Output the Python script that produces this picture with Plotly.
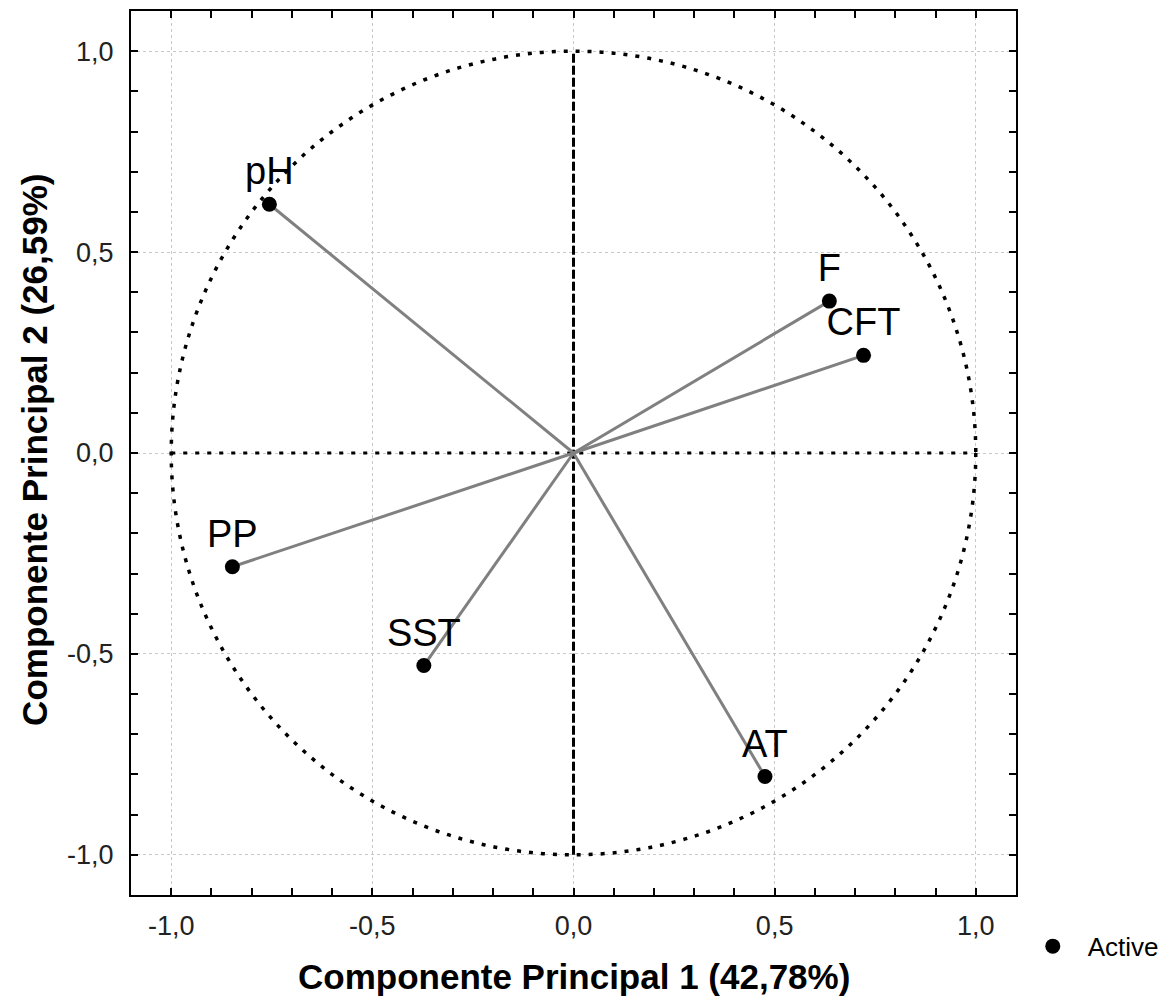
import plotly.graph_objects as go

# Data
variables = ["pH", "F", "CFT", "PP", "SST", "AT"]
pc1 = [-0.756, 0.636, 0.721, -0.848, -0.372, 0.476]
pc2 = [0.619, 0.378, 0.243, -0.283, -0.529, -0.805]

tick_vals = [-1.0, -0.5, 0.0, 0.5, 1.0]
tick_text = ["-1,0", "-0,5", "0,0", "0,5", "1,0"]

x_title = "Componente Principal 1 (42,78%)"
y_title = "Componente Principal 2 (26,59%)"
legend_name = "Active"

fig = go.Figure()

# vectors from origin
for v, x, y in zip(variables, pc1, pc2):
    fig.add_trace(go.Scatter(
        x=[0, x], y=[0, y], mode="lines",
        line=dict(color="#808080", width=3),
        showlegend=False, hoverinfo="skip"))

fig.add_trace(go.Scatter(
    x=pc1, y=pc2, mode="markers+text", name=legend_name,
    text=variables, textposition="top center",
    textfont=dict(family="Liberation Sans, Arial, sans-serif", size=38, color="black"),
    marker=dict(color="black", size=15, symbol="circle"),
    showlegend=True))

# unit circle and center lines
fig.add_shape(type="circle", xref="x", yref="y", x0=-1, y0=-1, x1=1, y1=1,
              line=dict(color="black", width=3.5, dash="4px,8px"), layer="between")
fig.add_shape(type="line", xref="x", yref="y", x0=0, y0=-1, x1=0, y1=1,
              line=dict(color="black", width=3, dash="9px,3px"), layer="between")
fig.add_shape(type="line", xref="x", yref="y", x0=-1, y0=0, x1=1, y1=0,
              line=dict(color="black", width=3, dash="4px,8px"), layer="between")

axis_common = dict(
    range=[-1.1, 1.1],
    tickmode="array", tickvals=tick_vals, ticktext=tick_text,
    ticks="inside", ticklen=7, tickwidth=2, tickcolor="black",
    showline=True, linecolor="black", linewidth=2, mirror="ticks",
    showgrid=True, gridcolor="#c8c8c8", gridwidth=1, griddash="dot",
    zeroline=False, automargin=False,
    tickfont=dict(family="Liberation Sans, Arial, sans-serif", size=27, color="#222222"),
    minor=dict(tickmode="linear", tick0=0, dtick=0.1, ticks="inside", ticklen=7,
               tickwidth=2, tickcolor="black", showgrid=False),
)

fig.update_xaxes(**axis_common, ticklabelstandoff=6)
fig.update_yaxes(**axis_common, ticklabelstandoff=10)

fig.add_annotation(text=x_title, xref="paper", yref="paper", x=0.5, y=-0.092,
                   xanchor="center", yanchor="middle", showarrow=False,
                   font=dict(family="Liberation Sans, Arial, sans-serif", size=35, color="black",
                             weight="bold"))
fig.add_annotation(text=y_title, xref="paper", yref="paper", x=-0.109, y=0.503,
                   xanchor="center", yanchor="middle", showarrow=False, textangle=-90,
                   font=dict(family="Liberation Sans, Arial, sans-serif", size=35, color="black",
                             weight="bold"))

fig.update_layout(
    width=1172, height=1003,
    margin=dict(l=131, r=156, t=11, b=108, autoexpand=False),
    plot_bgcolor="white", paper_bgcolor="white",
    showlegend=True,
    legend=dict(x=1.002, y=-0.058, xanchor="left", yanchor="middle",
                itemwidth=60, bgcolor="rgba(0,0,0,0)",
                font=dict(family="Liberation Sans, Arial, sans-serif", size=26, color="black")),
)

fig.write_html("out.html", post_script="document.body.style.margin='0px';",
               config={"displayModeBar": False})
